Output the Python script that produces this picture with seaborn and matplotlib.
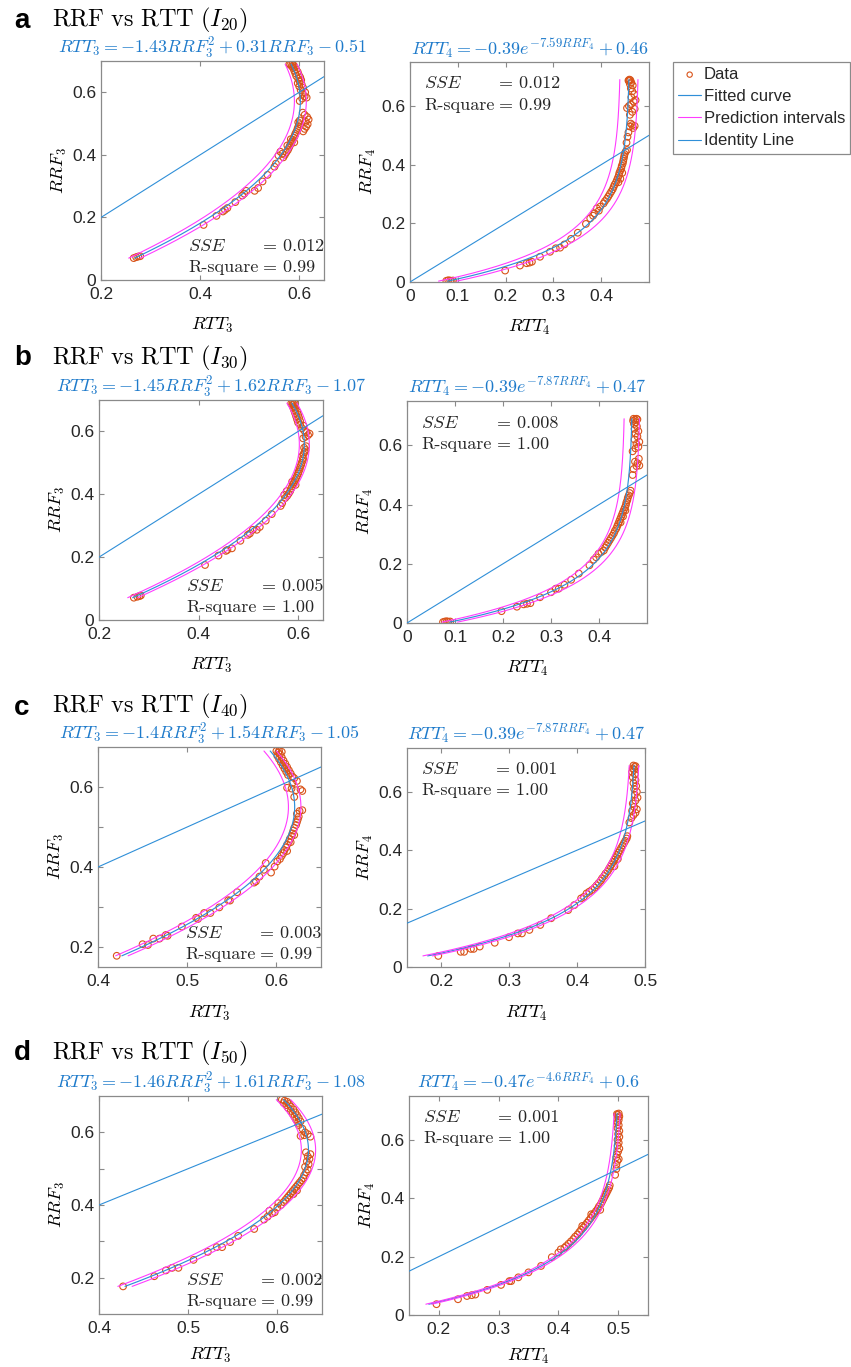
import numpy as np
import matplotlib
matplotlib.use("Agg")
import matplotlib.pyplot as plt
import seaborn as sns

# ------------------------------------------------------------------
# Measured points: x = RTT, y = RRF
# ------------------------------------------------------------------
rtt_a3 = [0.266, 0.271, 0.275, 0.279,
          0.407, 0.433, 0.446, 0.450, 0.455, 0.471, 0.485, 0.489, 0.493, 0.510, 0.517,
          0.526, 0.536, 0.550, 0.553, 0.558, 0.562, 0.566,
          0.568, 0.571, 0.574, 0.577, 0.579, 0.581, 0.583, 0.585, 0.587, 0.589, 0.591,
          0.592, 0.594, 0.596, 0.597, 0.599, 0.600, 0.598, 0.601, 0.576, 0.583, 0.590,
          0.608, 0.611, 0.614, 0.617, 0.613, 0.619, 0.616, 0.611, 0.607,
          0.601, 0.606, 0.611, 0.615, 0.607, 0.612, 0.603, 0.608, 0.600, 0.605,
          0.597, 0.601, 0.604, 0.598, 0.602, 0.594, 0.599, 0.592, 0.597, 0.590, 0.594,
          0.588, 0.591, 0.585, 0.589, 0.582, 0.580, 0.586]
rrf_a3 = [0.070, 0.073, 0.075, 0.076,
          0.176, 0.205, 0.219, 0.224, 0.230, 0.249, 0.270, 0.276, 0.285, 0.285, 0.294,
          0.315, 0.336, 0.362, 0.372, 0.398, 0.410, 0.404,
          0.392, 0.400, 0.408, 0.415, 0.422, 0.429, 0.436, 0.442, 0.448, 0.455, 0.461,
          0.467, 0.473, 0.480, 0.486, 0.492, 0.498, 0.504, 0.510, 0.430, 0.450, 0.440,
          0.475, 0.483, 0.490, 0.498, 0.506, 0.513, 0.521, 0.528, 0.535,
          0.572, 0.580, 0.587, 0.583, 0.595, 0.600, 0.607, 0.614, 0.619, 0.625,
          0.629, 0.634, 0.639, 0.643, 0.648, 0.652, 0.656, 0.661, 0.665, 0.669, 0.673,
          0.677, 0.680, 0.683, 0.686, 0.688, 0.690, 0.689]

rtt_a4 = [0.076, 0.080, 0.084, 0.087, 0.090,
          0.199, 0.230, 0.244, 0.250, 0.255, 0.272, 0.293, 0.305, 0.314, 0.323, 0.337,
          0.351, 0.368, 0.377, 0.383, 0.386, 0.391, 0.398, 0.395,
          0.405, 0.408, 0.412, 0.415, 0.418, 0.421, 0.424, 0.426, 0.428, 0.431, 0.433,
          0.435, 0.437, 0.438, 0.440, 0.442, 0.443, 0.445, 0.446, 0.447, 0.448, 0.449,
          0.451, 0.440, 0.444, 0.436,
          0.454, 0.453, 0.455, 0.457, 0.460, 0.465, 0.470, 0.462, 0.467, 0.454, 0.458,
          0.460, 0.465, 0.470, 0.462, 0.468, 0.472, 0.463, 0.469, 0.465, 0.462, 0.466,
          0.460, 0.463, 0.458, 0.461, 0.459, 0.457]
rrf_a4 = [0.004, 0.006, 0.005, 0.003, 0.005,
          0.039, 0.056, 0.064, 0.066, 0.069, 0.086, 0.103, 0.115, 0.117, 0.128, 0.147,
          0.168, 0.198, 0.217, 0.226, 0.234, 0.251, 0.257, 0.243,
          0.268, 0.276, 0.284, 0.292, 0.300, 0.308, 0.316, 0.324, 0.332, 0.340, 0.348,
          0.356, 0.364, 0.372, 0.380, 0.388, 0.396, 0.404, 0.412, 0.420, 0.428, 0.436,
          0.444, 0.352, 0.372, 0.340,
          0.450, 0.475, 0.495, 0.510, 0.530, 0.535, 0.532, 0.540, 0.525, 0.593, 0.600,
          0.570, 0.580, 0.590, 0.605, 0.615, 0.620, 0.630, 0.640, 0.650, 0.660, 0.670,
          0.675, 0.680, 0.685, 0.688, 0.690, 0.687]

rtt_b3 = [0.270, 0.277, 0.281, 0.284,
          0.413, 0.440, 0.455, 0.458, 0.467, 0.484, 0.499, 0.503, 0.509, 0.517, 0.523,
          0.535, 0.547, 0.565, 0.568, 0.572, 0.577, 0.574,
          0.578, 0.581, 0.584, 0.586, 0.588, 0.590, 0.592, 0.594, 0.596, 0.598, 0.600,
          0.601, 0.603, 0.604, 0.606, 0.607, 0.609, 0.610, 0.608, 0.611, 0.588, 0.595,
          0.613, 0.615, 0.612, 0.616,
          0.610, 0.615, 0.620, 0.623, 0.617, 0.612, 0.608, 0.611, 0.604,
          0.600, 0.604, 0.598, 0.602, 0.596, 0.600, 0.594, 0.598, 0.592, 0.595, 0.590,
          0.593, 0.588, 0.591, 0.586, 0.589, 0.593]
rrf_b3 = [0.071, 0.074, 0.076, 0.078,
          0.175, 0.205, 0.220, 0.223, 0.228, 0.252, 0.271, 0.275, 0.287, 0.287, 0.296,
          0.316, 0.337, 0.363, 0.372, 0.398, 0.410, 0.388,
          0.395, 0.402, 0.410, 0.418, 0.425, 0.432, 0.438, 0.445, 0.452, 0.459, 0.466,
          0.472, 0.479, 0.486, 0.493, 0.500, 0.507, 0.514, 0.521, 0.528, 0.440, 0.430,
          0.535, 0.541, 0.548, 0.553,
          0.578, 0.583, 0.588, 0.593, 0.598, 0.603, 0.610, 0.618, 0.622,
          0.628, 0.633, 0.638, 0.643, 0.648, 0.653, 0.658, 0.663, 0.667, 0.672, 0.676,
          0.680, 0.684, 0.687, 0.689, 0.690, 0.690]

rtt_b4 = [0.075, 0.079, 0.083, 0.086, 0.090,
          0.197, 0.229, 0.243, 0.250, 0.257, 0.277, 0.300, 0.310, 0.316, 0.328, 0.342,
          0.358, 0.380, 0.389, 0.394, 0.399, 0.405, 0.410,
          0.413, 0.416, 0.419, 0.422, 0.425, 0.428, 0.431, 0.433, 0.436, 0.438, 0.440,
          0.442, 0.444, 0.446, 0.448, 0.450, 0.452, 0.454, 0.456, 0.457, 0.459, 0.460,
          0.462, 0.464, 0.466, 0.450, 0.455, 0.445,
          0.470, 0.472, 0.478, 0.484, 0.480, 0.475, 0.483,
          0.470, 0.476, 0.482, 0.478, 0.484, 0.474, 0.480, 0.476, 0.482, 0.474, 0.479,
          0.473, 0.477, 0.471, 0.475, 0.478, 0.472, 0.480]
rrf_b4 = [0.003, 0.005, 0.006, 0.004, 0.005,
          0.040, 0.055, 0.063, 0.065, 0.067, 0.087, 0.104, 0.116, 0.116, 0.129, 0.146,
          0.167, 0.195, 0.214, 0.222, 0.234, 0.240, 0.245,
          0.255, 0.263, 0.271, 0.279, 0.287, 0.295, 0.303, 0.311, 0.319, 0.327, 0.335,
          0.343, 0.351, 0.359, 0.367, 0.375, 0.383, 0.391, 0.399, 0.407, 0.415, 0.423,
          0.431, 0.439, 0.447, 0.360, 0.380, 0.340,
          0.500, 0.520, 0.530, 0.532, 0.540, 0.545, 0.555,
          0.580, 0.590, 0.595, 0.605, 0.612, 0.620, 0.630, 0.640, 0.648, 0.656, 0.664,
          0.672, 0.678, 0.683, 0.687, 0.690, 0.690, 0.688]

rtt_c3 = [0.421, 0.450, 0.456, 0.462, 0.469, 0.476, 0.478, 0.494, 0.510, 0.512, 0.519,
          0.526, 0.536, 0.546, 0.548, 0.556, 0.575, 0.577, 0.581, 0.586, 0.588, 0.594,
          0.598, 0.601,
          0.604, 0.606, 0.608, 0.609, 0.611, 0.612, 0.614, 0.615, 0.617, 0.618, 0.619,
          0.620, 0.622, 0.623, 0.624, 0.625, 0.623, 0.626, 0.629, 0.612, 0.616, 0.620,
          0.612, 0.617, 0.622, 0.627, 0.629, 0.620, 0.618, 0.623, 0.620,
          0.600, 0.602, 0.604, 0.601, 0.606, 0.603, 0.608, 0.605, 0.610, 0.607, 0.612,
          0.609, 0.614, 0.611, 0.616, 0.613, 0.618, 0.603, 0.606]
rrf_c3 = [0.178, 0.207, 0.205, 0.221, 0.221, 0.230, 0.228, 0.251, 0.273, 0.270, 0.285,
          0.285, 0.299, 0.317, 0.316, 0.337, 0.361, 0.364, 0.376, 0.393, 0.410, 0.386,
          0.401, 0.414,
          0.420, 0.428, 0.435, 0.442, 0.449, 0.456, 0.463, 0.470, 0.477, 0.484, 0.491,
          0.498, 0.505, 0.512, 0.519, 0.526, 0.533, 0.540, 0.542, 0.440, 0.462, 0.480,
          0.598, 0.596, 0.592, 0.594, 0.590, 0.575, 0.610, 0.615, 0.622,
          0.690, 0.686, 0.682, 0.678, 0.674, 0.670, 0.666, 0.662, 0.658, 0.654, 0.650,
          0.646, 0.642, 0.638, 0.634, 0.630, 0.626, 0.690, 0.688]

rtt_c4 = [0.196, 0.229, 0.234, 0.244, 0.248, 0.257, 0.279, 0.300, 0.313, 0.319, 0.330,
          0.346, 0.362, 0.387, 0.396, 0.406, 0.410, 0.414, 0.418, 0.422,
          0.426, 0.429, 0.432, 0.435, 0.437, 0.440, 0.442, 0.445, 0.447, 0.449, 0.451,
          0.453, 0.455, 0.457, 0.459, 0.461, 0.463, 0.465, 0.467, 0.469, 0.471, 0.473,
          0.474, 0.455, 0.460,
          0.477, 0.480, 0.483, 0.486, 0.481, 0.488, 0.484,
          0.482, 0.486, 0.489, 0.485, 0.488, 0.484, 0.487, 0.483, 0.486, 0.482, 0.485,
          0.481, 0.484, 0.482, 0.485, 0.483, 0.486]
rrf_c4 = [0.038, 0.052, 0.052, 0.062, 0.062, 0.070, 0.083, 0.102, 0.115, 0.115, 0.127,
          0.144, 0.167, 0.195, 0.212, 0.235, 0.240, 0.252, 0.258, 0.264,
          0.272, 0.280, 0.288, 0.296, 0.304, 0.312, 0.320, 0.328, 0.336, 0.344, 0.352,
          0.360, 0.368, 0.376, 0.384, 0.392, 0.400, 0.408, 0.416, 0.424, 0.432, 0.440,
          0.448, 0.345, 0.370,
          0.495, 0.510, 0.520, 0.528, 0.535, 0.540, 0.548,
          0.560, 0.570, 0.580, 0.590, 0.600, 0.610, 0.620, 0.630, 0.640, 0.650, 0.660,
          0.668, 0.675, 0.680, 0.685, 0.690, 0.688]

rtt_d3 = [0.427, 0.462, 0.475, 0.482, 0.489, 0.506, 0.522, 0.532, 0.538, 0.547, 0.556,
          0.574, 0.585, 0.589, 0.591, 0.594, 0.600, 0.601, 0.597,
          0.604, 0.607, 0.609, 0.611, 0.613, 0.615, 0.617, 0.619, 0.621, 0.623, 0.625,
          0.627, 0.629, 0.618, 0.622,
          0.630, 0.632, 0.634, 0.631, 0.635, 0.633, 0.636, 0.634, 0.637, 0.632,
          0.626, 0.630, 0.634, 0.637, 0.631, 0.628, 0.624,
          0.605, 0.608, 0.611, 0.607, 0.613, 0.610, 0.615, 0.612, 0.618, 0.615, 0.620,
          0.617, 0.622, 0.619, 0.624, 0.621, 0.626, 0.623]
rrf_d3 = [0.176, 0.204, 0.220, 0.227, 0.227, 0.249, 0.271, 0.284, 0.284, 0.298, 0.315,
          0.334, 0.360, 0.368, 0.384, 0.377, 0.393, 0.405, 0.380,
          0.400, 0.408, 0.414, 0.420, 0.426, 0.432, 0.438, 0.444, 0.450, 0.456, 0.462,
          0.468, 0.474, 0.430, 0.440,
          0.482, 0.490, 0.498, 0.505, 0.512, 0.520, 0.527, 0.534, 0.540, 0.545,
          0.590, 0.592, 0.595, 0.588, 0.600, 0.610, 0.620,
          0.690, 0.687, 0.684, 0.681, 0.678, 0.675, 0.671, 0.667, 0.663, 0.659, 0.655,
          0.651, 0.647, 0.643, 0.639, 0.635, 0.630, 0.626]

rtt_d4 = [0.196, 0.232, 0.247, 0.255, 0.261, 0.281, 0.304, 0.318, 0.321, 0.333, 0.350,
          0.371, 0.389, 0.400, 0.404, 0.410,
          0.413, 0.417, 0.421, 0.425, 0.428, 0.432, 0.435, 0.438, 0.442, 0.445, 0.448,
          0.451, 0.454, 0.457, 0.460, 0.463, 0.466, 0.468, 0.471, 0.473, 0.475, 0.477,
          0.479, 0.481, 0.483, 0.485, 0.486, 0.455, 0.440, 0.470,
          0.495, 0.497, 0.497, 0.499, 0.501, 0.497,
          0.498, 0.500, 0.502, 0.499, 0.501, 0.499, 0.502, 0.500, 0.502, 0.499, 0.501,
          0.499, 0.501, 0.500, 0.502, 0.499, 0.501, 0.498]
rrf_d4 = [0.037, 0.054, 0.065, 0.068, 0.070, 0.086, 0.103, 0.116, 0.116, 0.129, 0.146,
          0.168, 0.198, 0.214, 0.225, 0.230,
          0.236, 0.244, 0.252, 0.260, 0.268, 0.276, 0.284, 0.292, 0.300, 0.308, 0.316,
          0.324, 0.332, 0.340, 0.348, 0.356, 0.364, 0.372, 0.380, 0.388, 0.396, 0.404,
          0.412, 0.420, 0.428, 0.436, 0.444, 0.345, 0.305, 0.360,
          0.480, 0.500, 0.515, 0.528, 0.534, 0.540,
          0.550, 0.560, 0.570, 0.580, 0.590, 0.600, 0.610, 0.620, 0.630, 0.640, 0.650,
          0.660, 0.668, 0.675, 0.680, 0.685, 0.690, 0.688]

# Fit parameters: quadratic RTT = a*RRF^2 + b*RRF + c,
# exponential RTT = -A*exp(-B*RRF) + C
quad_a3 = [-1.33, 1.52, 0.168]
quad_b3 = [-1.45, 1.62, 0.160]
quad_c3 = [-1.40, 1.54, 0.197]
quad_d3 = [-1.46, 1.61, 0.191]
exp_a4 = [0.39, 7.59, 0.460]
exp_b4 = [0.39, 7.87, 0.470]
exp_c4 = [0.40, 7.00, 0.487]
exp_d4 = [0.41, 6.80, 0.502]

# Half-width of the prediction band (in RTT), panel order a3, a4, b3, b4, c3, c4, d3, d4
pi_half = [0.012, 0.019, 0.010, 0.016, 0.007, 0.007, 0.008, 0.005]

# Equations shown above each panel
eq_a3 = r"$RTT_3 = -1.43RRF_3^2 + 0.31RRF_3 - 0.51$"
eq_a4 = r"$RTT_4 = -0.39e^{-7.59RRF_4} + 0.46$"
eq_b3 = r"$RTT_3 = -1.45RRF_3^2 + 1.62RRF_3 - 1.07$"
eq_b4 = r"$RTT_4 = -0.39e^{-7.87RRF_4} + 0.47$"
eq_c3 = r"$RTT_3 = -1.4RRF_3^2 + 1.54RRF_3 - 1.05$"
eq_c4 = r"$RTT_4 = -0.39e^{-7.87RRF_4} + 0.47$"
eq_d3 = r"$RTT_3 = -1.46RRF_3^2 + 1.61RRF_3 - 1.08$"
eq_d4 = r"$RTT_4 = -0.47e^{-4.6RRF_4} + 0.6$"

# Goodness of fit
sse_vals = ["0.012", "0.012", "0.005", "0.008", "0.003", "0.001", "0.002", "0.001"]
rsq_vals = ["0.99", "0.99", "1.00", "1.00", "0.99", "1.00", "0.99", "1.00"]

# Panel headings
panel_letters = ["a", "b", "c", "d"]
panel_titles = [r"$\mathrm{RRF\ vs\ RTT}\ (I_{20})$", r"$\mathrm{RRF\ vs\ RTT}\ (I_{30})$",
                r"$\mathrm{RRF\ vs\ RTT}\ (I_{40})$", r"$\mathrm{RRF\ vs\ RTT}\ (I_{50})$"]

legend_labels = ["Data", "Fitted curve", "Prediction intervals", "Identity Line"]

# ------------------------------------------------------------------
sns.set_style("ticks")
plt.rcParams["font.family"] = ["Liberation Sans", "DejaVu Sans"]
plt.rcParams["mathtext.fontset"] = "cm"

ORANGE = "#D95319"
LINE_BLUE = "#2f8fd8"
TITLE_BLUE = "#1f7bcb"
MAGENTA = "#ff3cff"
GRAY = "#8a8a8a"
TXT = "#262626"

W, H = 851, 1367
fig = plt.figure(figsize=(W / 100, H / 100), dpi=100)


def px_axes(x0, y0, x1, y1):
    return fig.add_axes([x0 / W, 1 - y1 / H, (x1 - x0) / W, (y1 - y0) / H])


specs = [
    # rtt, rrf, kind, coef, eq, box(px), xlim, ylim, xticks, yticks, minor y, subscript, xlabelpad
    (rtt_a3, rrf_a3, "quad", quad_a3, eq_a3, (101, 61, 324, 280), (0.2, 0.65), (0, 0.7),
     [0.2, 0.4, 0.6], [0, 0.2, 0.4, 0.6], [], "3", 10),
    (rtt_a4, rrf_a4, "exp", exp_a4, eq_a4, (410, 62, 649, 282), (0, 0.5), (0, 0.75),
     [0, 0.1, 0.2, 0.3, 0.4], [0, 0.2, 0.4, 0.6], [], "4", 10),
    (rtt_b3, rrf_b3, "quad", quad_b3, eq_b3, (99, 400, 323, 620), (0.2, 0.65), (0, 0.7),
     [0.2, 0.4, 0.6], [0, 0.2, 0.4, 0.6], [], "3", 10),
    (rtt_b4, rrf_b4, "exp", exp_b4, eq_b4, (407, 401, 647, 623), (0, 0.5), (0, 0.75),
     [0, 0.1, 0.2, 0.3, 0.4], [0, 0.2, 0.4, 0.6], [], "4", 10),
    (rtt_c3, rrf_c3, "quad", quad_c3, eq_c3, (98, 747, 321, 967), (0.4, 0.65), (0.15, 0.7),
     [0.4, 0.5, 0.6], [0.2, 0.4, 0.6], [0.3, 0.5], "3", 11),
    (rtt_c4, rrf_c4, "exp", exp_c4, eq_c4, (407, 748, 645, 967), (0.15, 0.5), (0, 0.75),
     [0.2, 0.3, 0.4, 0.5], [0, 0.2, 0.4, 0.6], [], "4", 11),
    (rtt_d3, rrf_d3, "quad", quad_d3, eq_d3, (99, 1096, 322, 1314), (0.4, 0.65), (0.1, 0.7),
     [0.4, 0.5, 0.6], [0.2, 0.4, 0.6], [0.3, 0.5], "3", 7),
    (rtt_d4, rrf_d4, "exp", exp_d4, eq_d4, (409, 1096, 648, 1315), (0.15, 0.55), (0, 0.75),
     [0.2, 0.3, 0.4, 0.5], [0, 0.2, 0.4, 0.6], [], "4", 7),
]

legend_handles = None

for i, (rtt, rrf, kind, coef, eq, box, xlim, ylim, xt, yt, ymin_t, sub, xlp) in enumerate(specs):
    ax = px_axes(*box)

    # data
    sns.scatterplot(x=rtt, y=rrf, ax=ax, marker="o", s=23, facecolor="none",
                    edgecolor=ORANGE, linewidth=0.8, zorder=2, legend=False)
    h_data = ax.collections[-1]

    # fitted curve and prediction band
    r = np.linspace(min(rrf), max(rrf), 300)
    if kind == "quad":
        t = coef[0] * r ** 2 + coef[1] * r + coef[2]
    else:
        t = -coef[0] * np.exp(-coef[1] * r) + coef[2]
    d = pi_half[i]
    sns.lineplot(x=t, y=r, ax=ax, sort=False, estimator=None, color=LINE_BLUE,
                 linewidth=0.85, zorder=3)
    h_fit = ax.lines[-1]
    sns.lineplot(x=t - d, y=r, ax=ax, sort=False, estimator=None, color=MAGENTA,
                 linewidth=0.8, zorder=3)
    h_pi = ax.lines[-1]
    sns.lineplot(x=t + d, y=r, ax=ax, sort=False, estimator=None, color=MAGENTA,
                 linewidth=0.8, zorder=3)

    # identity line
    diag = np.array(xlim)
    sns.lineplot(x=diag, y=diag, ax=ax, sort=False, estimator=None, color=LINE_BLUE,
                 linewidth=0.8, zorder=3)
    h_id = ax.lines[-1]

    if ax.get_legend() is not None:
        ax.get_legend().remove()

    ax.set_xlim(*xlim)
    ax.set_ylim(*ylim)
    ax.set_xticks(xt)
    ax.set_xticklabels([f"{v:g}" for v in xt])
    ax.set_yticks(yt)
    ax.set_yticklabels([f"{v:g}" for v in yt])
    if ymin_t:
        ax.set_yticks(ymin_t, minor=True)
    ax.tick_params(which="both", direction="in", top=True, right=True, length=3.5,
                   width=0.8, color=GRAY, labelsize=12.5, labelcolor=TXT)
    ax.tick_params(axis="x", pad=5)
    ax.tick_params(axis="y", pad=3.5)
    for s in ax.spines.values():
        s.set_color(GRAY)
        s.set_linewidth(0.9)

    ax.set_xlabel(rf"$RTT_{sub}$", fontsize=13, labelpad=xlp, color="black")
    ax.set_ylabel(rf"$RRF_{sub}$", fontsize=13, labelpad=2.5, color="black")
    ax.set_title(eq, color=TITLE_BLUE, fontsize=13, pad=5.5)

    # goodness-of-fit text
    if kind == "quad":
        x0, xeq, y1, y2 = 0.39, 0.726, 0.133, 0.037
    else:
        x0, xeq, y1, y2 = 0.06, 0.374, 0.880, 0.784
    ax.text(x0, y1, r"$SSE$", transform=ax.transAxes, fontsize=13, va="baseline")
    ax.text(xeq, y1, f"= {sse_vals[i]}", transform=ax.transAxes, fontsize=13,
            family="cmr10", va="baseline")
    ax.text(x0, y2, "R-square", transform=ax.transAxes, fontsize=13,
            family="cmr10", va="baseline")
    ax.text(xeq, y2, f"= {rsq_vals[i]}", transform=ax.transAxes, fontsize=13,
            family="cmr10", va="baseline")

    if i == 1:
        legend_handles = [h_data, h_fit, h_pi, h_id]

# panel headings
letter_base = [28.5, 365, 715, 1060]
title_base = [26.5, 364.5, 712, 1059.5]
for k in range(4):
    fig.text(14 / W, 1 - letter_base[k] / H, panel_letters[k], fontsize=20,
             fontweight="bold", va="baseline", ha="left", color="black")
    fig.text(52 / W, 1 - title_base[k] / H, panel_titles[k], fontsize=17.5,
             va="baseline", ha="left", color="black")

leg = fig.legend(legend_handles, legend_labels, loc="upper left",
                 bbox_to_anchor=(673 / W, 1 - 62 / H), bbox_transform=fig.transFigure,
                 borderaxespad=0, frameon=True, fancybox=False, fontsize=12,
                 handlelength=1.4, handletextpad=0.15, borderpad=0.3,
                 labelspacing=0.43, scatterpoints=1, markerscale=0.8)
leg.get_frame().set_edgecolor(GRAY)
leg.get_frame().set_linewidth(0.9)
leg.get_frame().set_alpha(1)

fig.savefig("out.png", dpi=100, facecolor="white")
